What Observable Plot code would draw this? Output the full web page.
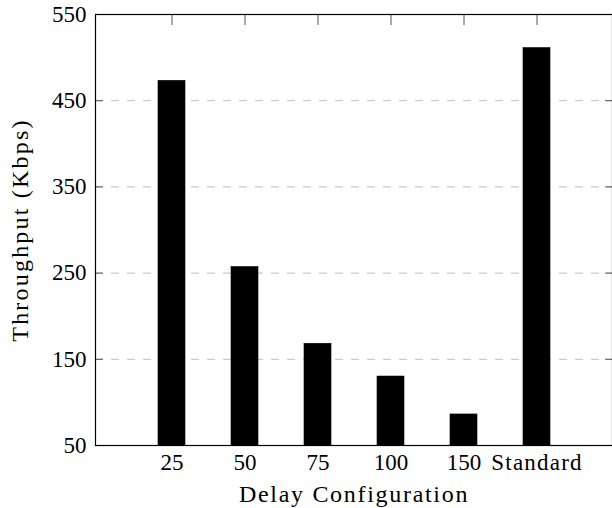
<!DOCTYPE html>
<html>
<head>
<meta charset="utf-8">
<script src="https://cdn.jsdelivr.net/npm/d3@7"></script>
<script src="https://cdn.jsdelivr.net/npm/@observablehq/plot@0.6"></script>
<style>
  html, body { margin: 0; padding: 0; background: #fff; }
  #chart svg, #chart svg text { font-family: "Liberation Serif", "Times New Roman", serif !important; }
</style>
</head>
<body>
<div id="chart"></div>
<script>
const categories = ["25", "50", "75", "100", "150", "Standard"];
const throughput = [473, 257, 168, 130, 86, 511];
const yTicks = [50, 150, 250, 350, 450, 550];
const gridValues = [150, 250, 350, 450];
const xLabel = "Delay Configuration";
const yLabel = "Throughput (Kbps)";

const data = categories.map((c, i) => ({delay: c, value: throughput[i]}));

const chart = Plot.plot({
  width: 612,
  height: 508,
  marginLeft: 95,
  marginTop: 14,
  marginRight: 0,
  marginBottom: 63,
  style: {background: "#fff", color: "#000", fontSize: "23px", overflow: "visible"},
  x: {type: "band", domain: categories, paddingInner: 0.635, paddingOuter: 0.818, align: 0.5},
  y: {domain: [50, 550]},
  marks: [
    Plot.ruleY(gridValues, {stroke: "#bdbdbd", strokeDasharray: "8,8", strokeWidth: 1}),
    Plot.axisX({anchor: "bottom", tickSize: -9, text: null, stroke: "#555", label: null}),
    Plot.barY(data, {x: "delay", y: "value", fill: "#000", stroke: "#000", strokeWidth: 0.6, clip: true}),
    Plot.axisX({anchor: "top", tickSize: -10, text: null, stroke: "#555", label: null}),
    Plot.axisX({anchor: "bottom", tickSize: 0, tickPadding: 8, label: null, fill: "#000", fontSize: 23}),
    Plot.axisY({anchor: "left", ticks: yTicks, tickSize: -8, text: null, stroke: "#555", label: null}),
    Plot.axisY({anchor: "right", ticks: yTicks, tickSize: -8, text: null, stroke: "#555", label: null}),
    Plot.axisY({anchor: "left", ticks: yTicks, tickSize: 0, tickPadding: 9, label: null, fill: "#000", fontSize: 23}),
    Plot.frame({stroke: "#000", strokeWidth: 1.2}),
    Plot.text([xLabel], {frameAnchor: "bottom", textAnchor: "middle", lineAnchor: "middle", dy: 49, fill: "#000", fontSize: 24}),
    Plot.text([yLabel], {frameAnchor: "left", textAnchor: "middle", lineAnchor: "middle", rotate: -90, dx: -75, fill: "#000", fontSize: 24})
  ]
});
document.getElementById("chart").append(chart);
d3.select(chart).selectAll("text").filter(function() { return this.textContent === xLabel; }).style("letter-spacing", "1.7px");
d3.select(chart).selectAll("text").filter(function() { return this.textContent === yLabel; }).style("letter-spacing", "2.2px");
d3.select(chart).selectAll("text").filter(function() { return this.textContent === "Standard"; }).style("letter-spacing", "1.2px");
</script>
</body>
</html>
